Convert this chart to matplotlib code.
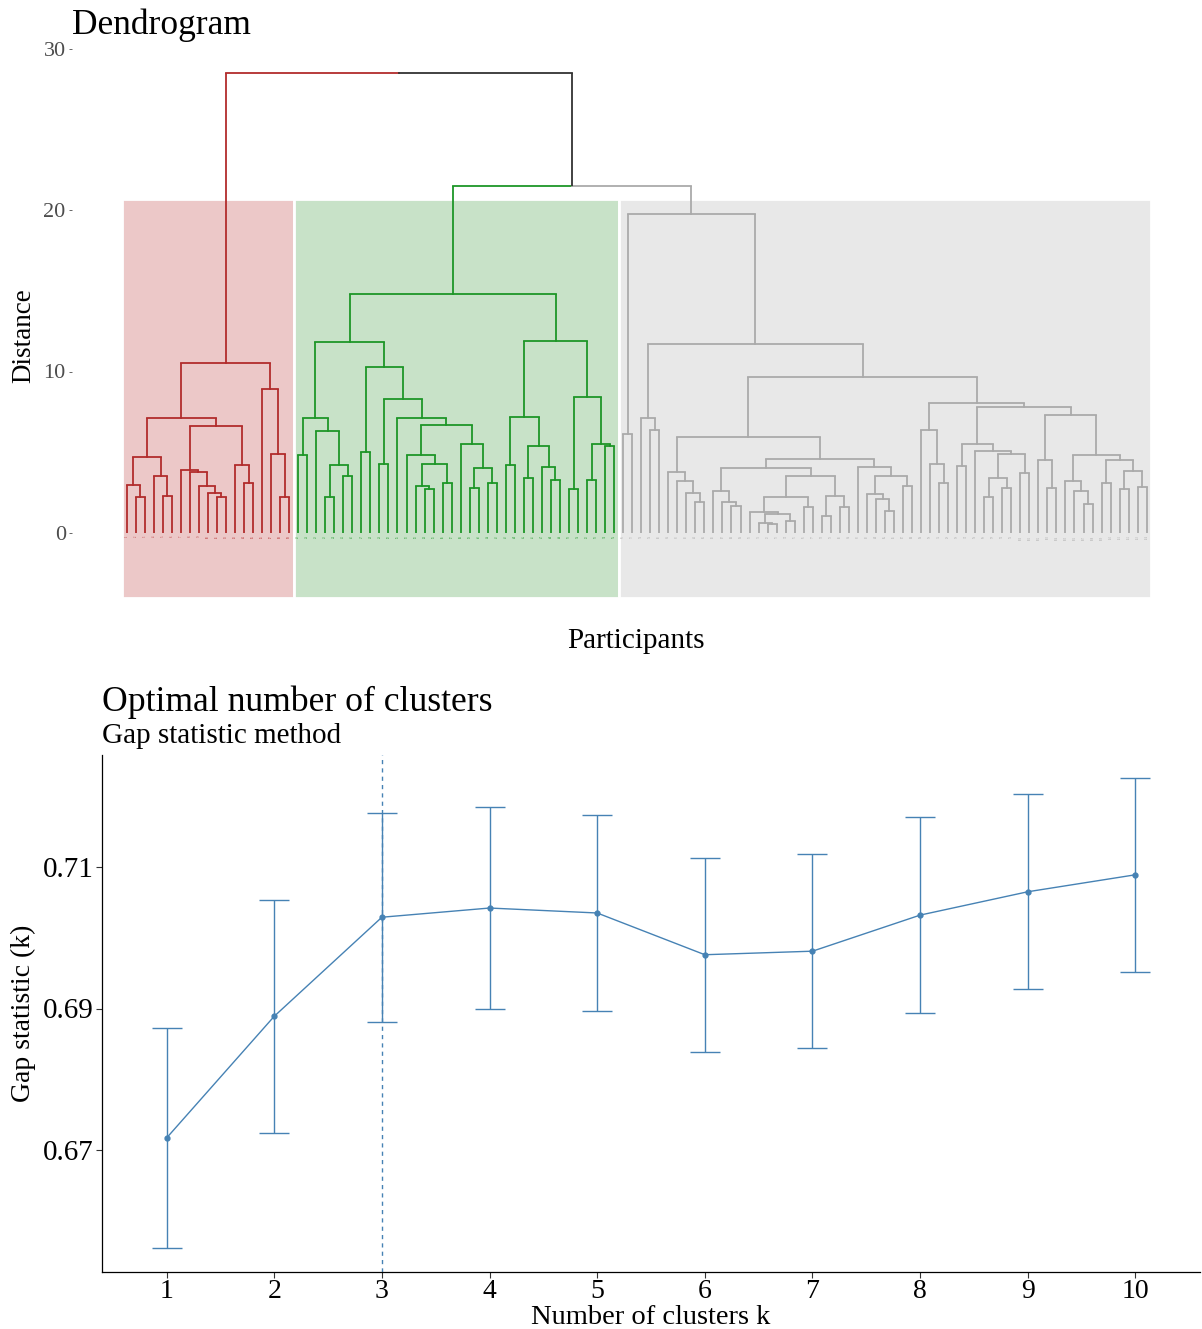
import re
import matplotlib
matplotlib.use("Agg")
import matplotlib.pyplot as plt
from matplotlib.patches import Rectangle

plt.rcParams['font.family'] = ['Liberation Serif', 'DejaVu Serif']

# ---------------- data ----------------
# Dendrogram clusters as nested "(left,right)height" strings; "*" is a participant (leaf)
red_cluster = ("((((*,(*,*)2.2)3.0,(*,(*,*)2.3)3.5)4.7,"
               "((*,(*,(*,(*,(*,*)2.2)2.5)2.9)3.8)3.9,(*,(*,*)3.1)4.2)6.6)7.1,"
               "(*,(*,(*,*)2.2)4.9)8.9)10.5")
green_cluster = ("((((*,*)4.8,(*,((*,*)2.2,(*,*)3.5)4.2)6.3)7.1,"
                 "((*,*)5.0,((*,*)4.3,(*,((*,((*,(*,*)2.7)2.9,(*,*)3.1)4.25)4.8,"
                 "(*,((*,*)2.8,(*,*)3.1)4.0)5.5)6.7)7.1)8.3)10.3)11.8,"
                 "(((*,*)4.2,((*,*)3.4,(*,(*,*)3.3)4.1)5.4)7.2,"
                 "((*,*)2.7,((*,*)3.3,(*,*)5.4)5.5)8.4)11.9)14.8")
grey_cluster = ("((*,*)6.1,((*,(*,*)6.4)7.15,"
                "(((*,(*,(*,(*,*)1.95)2.5)3.2)3.8,"
                "(((*,(*,(*,*)1.67)1.9)2.6,(((*,((*,(*,*)0.54)0.64,(*,*)0.72)1.2)1.3,(*,*)1.6)2.25,"
                "((*,*)1.05,(*,*)1.6)2.3)3.5)4.0,"
                "(*,((*,(*,(*,*)1.36)2.1)2.4,(*,*)2.9)3.5)4.1)4.6)5.96,"
                "((*,(*,(*,*)3.1)4.3)6.4,"
                "(((*,*)4.17,(*,(((*,*)2.2,(*,*)2.77)3.4,(*,*)3.7)4.9)5.08)5.5,"
                "((*,(*,*)2.77)4.5,((*,(*,(*,*)1.8)2.6)3.24,((*,*)3.08,((*,*)2.7,(*,*)2.83)3.86)4.5)4.8)7.3)7.82)8.03)9.64)11.7)19.75")
green_grey_height = 21.5
root_height = 28.5
cluster_line_colors = ["#B22C2C", "#1E9628", "#AAAAAA"]
cluster_fill_colors = ["#ECC8C8", "#C8E2C8", "#E8E8E8"]
rect_top = 20.7
rect_bottom = -4.0
dend_yticks = [0, 10, 20, 30]

# Gap statistic
k_values = [1, 2, 3, 4, 5, 6, 7, 8, 9, 10]
gap_values = [0.6717, 0.6889, 0.7029, 0.7042, 0.7035, 0.6976, 0.6981, 0.7032, 0.7065, 0.7089]
gap_se = [0.0155, 0.0165, 0.0148, 0.0143, 0.0139, 0.0137, 0.0137, 0.0138, 0.0138, 0.0137]
optimal_k = 3
gap_yticks = [0.67, 0.69, 0.71]

# ---------------- helpers ----------------
def parse(s, color):
    s = s.replace(" ", "")
    pos = 0
    def node():
        nonlocal pos
        if s[pos] == "*":
            pos += 1
            return {"leaf": True, "col": color}
        pos += 1  # '('
        left = node()
        pos += 1  # ','
        right = node()
        pos += 1  # ')'
        m = re.match(r"[0-9.]+", s[pos:])
        pos += len(m.group())
        return {"leaf": False, "h": float(m.group()), "kids": [left, right], "col": color}
    return node()

W, H = 1202, 1329
fig = plt.figure(figsize=(W / 100, H / 100), dpi=100)

def fx(x):
    return x / W

def fy(y):
    return 1 - y / H

# ---------------- dendrogram ----------------
ax1 = fig.add_axes([fx(72), fy(605), fx(1195) - fx(72), fy(40) - fy(605)])
trees = [parse(red_cluster, cluster_line_colors[0]),
         parse(green_cluster, cluster_line_colors[1]),
         parse(grey_cluster, cluster_line_colors[2])]
root = {"leaf": False, "h": root_height, "col": "#333333",
        "kids": [trees[0], {"leaf": False, "h": green_grey_height, "col": "#333333",
                            "kids": [trees[1], trees[2]]}]}

leaf_pos = []
lw = 1.3

def draw(n):
    if n["leaf"]:
        x = len(leaf_pos)
        leaf_pos.append((x, n["col"]))
        return x, 0.0
    xs = []
    for c in n["kids"]:
        cx, ch = draw(c)
        xs.append((cx, ch, c["col"]))
    xm = (xs[0][0] + xs[1][0]) / 2
    for cx, ch, col in xs:
        ax1.plot([cx, cx], [ch, n["h"]], color=col, lw=lw, solid_capstyle="butt", zorder=3)
        ax1.plot([cx, xm], [n["h"], n["h"]], color=col, lw=lw, solid_capstyle="projecting", zorder=3)
    return xm, n["h"]

draw(root)

def count(n):
    return 1 if n["leaf"] else sum(count(c) for c in n["kids"])

start = 0
for t, fc in zip(trees, cluster_fill_colors):
    nleaf = count(t)
    ax1.add_patch(Rectangle((start - 0.5, rect_bottom), nleaf, rect_top - rect_bottom,
                            facecolor=fc, edgecolor="white", lw=2, zorder=1))
    start += nleaf

for i, (x, col) in enumerate(leaf_pos):
    ax1.text(x, -0.15, str(i + 1), rotation=90, ha="center", va="top",
             fontsize=2, color=col, zorder=4)

n_leaves = len(leaf_pos)
spacing = (1146.7 - 126.7) / (n_leaves - 1)
ax1.set_xlim(-(126.7 - 72) / spacing, (1195 - 126.7) / spacing)
ax1.set_ylim((533 - 605) / 16.15, (533 - 40) / 16.15)
ax1.set_yticks(dend_yticks)
ax1.set_yticklabels([str(v) for v in dend_yticks], fontsize=16, color="#4D4D4D")
ax1.tick_params(axis="y", length=2.5, width=0.6, color="#4D4D4D", pad=2)
ax1.set_xticks([])
for sp in ax1.spines.values():
    sp.set_visible(False)
ax1.patch.set_alpha(0)

fig.text(fx(72), fy(34), "Dendrogram", fontsize=25.5, ha="left", va="baseline")
fig.text(fx(24), fy(336), "Distance", fontsize=19.5, rotation=90, ha="center", va="center")
fig.text(fx(636), fy(641), "Participants", fontsize=21, ha="center", va="center")

# ---------------- gap statistic ----------------
ax2 = fig.add_axes([fx(102), fy(1272), fx(1200) - fx(102), fy(755) - fy(1272)])
blue = "#4682B4"
ax2.axvline(optimal_k, color=blue, lw=1.0, ls=(0, (3, 3)), zorder=1)
ax2.errorbar(k_values, gap_values, yerr=gap_se, color=blue, lw=1.0,
             marker="o", ms=3.5, capsize=11, capthick=1.0, elinewidth=1.0, zorder=3)
ax2.set_xlim(0.4, 10.6)
ax2.set_ylim(0.67 - (1272 - 1150) / 7075, 0.71 + (867 - 755) / 7075)
ax2.set_xticks(k_values)
ax2.set_xticklabels([str(k) for k in k_values], fontsize=20)
ax2.set_yticks(gap_yticks)
ax2.set_yticklabels([f"{v:.2f}" for v in gap_yticks], fontsize=21)
ax2.tick_params(axis="both", length=4, width=0.8, color="#333333", pad=2)
ax2.tick_params(axis="x", pad=1)
ax2.spines["top"].set_visible(False)
ax2.spines["right"].set_visible(False)
ax2.spines["left"].set_linewidth(0.9)
ax2.spines["bottom"].set_linewidth(0.9)
ax2.set_xlabel("Number of clusters k", fontsize=20.5, labelpad=1)
ax2.set_ylabel("Gap statistic (k)", fontsize=20, labelpad=5)

fig.text(fx(102), fy(711), "Optimal number of clusters", fontsize=25.7, ha="left", va="baseline")
fig.text(fx(102), fy(743), "Gap statistic method", fontsize=21, ha="left", va="baseline")

fig.savefig("out.png", dpi=100)
